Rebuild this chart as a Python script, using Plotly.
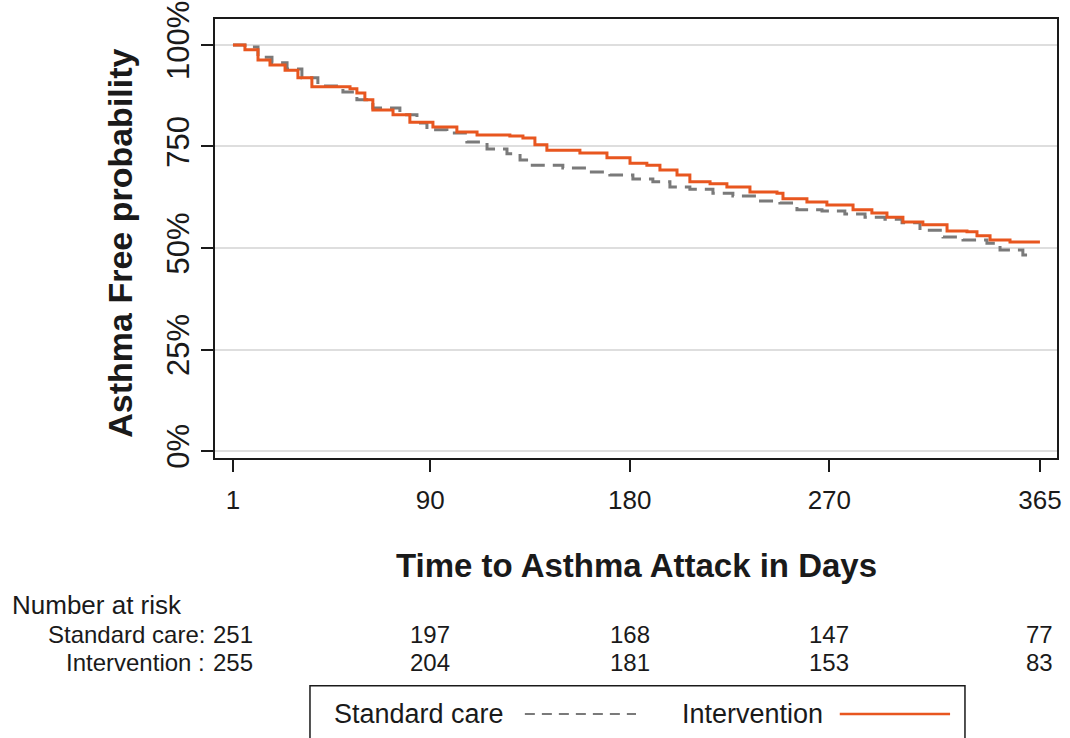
import plotly.graph_objects as go

# Kaplan-Meier step estimates (day, asthma-free probability in %)
std_days = [1, 6.4, 12.3, 18.6, 25.4, 32.1, 39.3, 45.7, 50.6, 56.9, 64.1, 76.3, 84.0,
            88.5, 97.5, 106.5, 115.6, 124.6, 130.5, 135.0, 149.8, 160.7, 171.0, 181.4,
            190.4, 198.1, 207.1, 217.5, 226.5, 237.4, 247.7, 255.4, 266.7, 277.0, 286.1,
            295.1, 302.8, 310.9, 321.3, 330.3, 341.1, 347.0, 357.3, 361.4]
std_surv = [100.0, 99.5, 97.0, 95.6, 94.1, 91.9, 89.9, 89.9, 88.4, 86.5, 84.5, 82.8, 80.8,
            79.1, 78.3, 76.1, 74.4, 73.2, 71.7, 70.4, 69.7, 68.7, 68.0, 67.0,
            66.3, 65.0, 64.5, 63.5, 62.8, 61.6, 61.1, 59.4, 59.1, 58.4, 57.6,
            57.1, 56.2, 54.4, 52.7, 52.0, 51.2, 49.5, 48.3, 48.3]

int_days = [1, 6.4, 12.3, 17.7, 24.5, 30.3, 36.6, 53.8, 56.9, 60.5, 64.1, 73.2, 80.8,
            91.2, 102.0, 111.1, 125.9, 131.8, 137.2, 142.6, 157.5, 169.7, 180.1, 187.7,
            193.6, 201.3, 207.1, 216.2, 223.8, 234.2, 246.4, 249.1, 259.9, 268.9, 280.7,
            289.2, 296.0, 303.2, 312.2, 323.1, 332.1, 336.6, 342.5, 351.5, 365]
int_surv = [100.0, 98.8, 96.3, 95.1, 93.8, 91.9, 89.7, 89.2, 88.2, 86.5, 84.0, 82.8, 81.0,
            79.8, 78.6, 77.8, 77.6, 77.1, 75.4, 74.1, 73.4, 72.2, 70.9, 70.4,
            69.2, 68.0, 66.3, 65.8, 65.0, 63.8, 63.5, 62.1, 61.3, 60.6, 59.4,
            58.6, 57.6, 56.4, 55.7, 54.2, 54.0, 53.0, 52.0, 51.5, 51.5]

x_ticks = [1, 90, 180, 270, 365]
y_ticks = [0, 25, 50, 75, 100]
y_tick_text = ["0%", "25%", "50%", "750", "100%"]

risk_std = [251, 197, 168, 147, 77]
risk_int = [255, 204, 181, 153, 83]

GRAY = "#7a7a7a"
ORANGE = "#e8561f"
FONT = "Arial, Liberation Sans, sans-serif"
DARK = "#1a1a1a"


def note(text, x, y, size, xanchor="center", xref="paper", **kw):
    return dict(text=text, xref=xref, yref="paper", x=x, y=y, xanchor=xanchor,
                yanchor="middle", showarrow=False,
                font=dict(size=size, color=DARK, family=FONT), **kw)


fig = go.Figure()
fig.add_trace(go.Scatter(x=std_days, y=std_surv, mode="lines", line_shape="hv",
                         name="Standard care",
                         line=dict(color=GRAY, width=3, dash="14px,8px")))
fig.add_trace(go.Scatter(x=int_days, y=int_surv, mode="lines", line_shape="hv",
                         name="Intervention",
                         line=dict(color=ORANGE, width=3)))

annotations = [
    note("<b>Asthma Free probability</b>", -0.113, 0.49, 34, textangle=-90),
    note("<b>Time to Asthma Attack in Days</b>", 0.501, -0.246, 33),
    note("Number at risk", -0.2435, -0.335, 26, xanchor="left"),
    note("Standard care:", -0.0095, -0.403, 24, xanchor="right"),
    note("Intervention :", -0.0095, -0.465, 24, xanchor="right"),
]
for day, a, b in zip(x_ticks, risk_std, risk_int):
    annotations.append(note(str(a), day, -0.403, 24, xref="x"))
    annotations.append(note(str(b), day, -0.465, 24, xref="x"))

# legend box below the risk table: label first, key line after
annotations += [
    note("Standard care", 0.139, -0.583, 27, xanchor="left"),
    note("Intervention", 0.552, -0.583, 27, xanchor="left"),
]
shapes = [
    dict(type="rect", xref="paper", yref="paper", x0=0.1128, x1=0.8907,
         y0=-0.66, y1=-0.519, line=dict(color=DARK, width=1.5)),
    dict(type="line", xref="paper", yref="paper", x0=0.368, x1=0.5, y0=-0.583, y1=-0.583,
         line=dict(color=GRAY, width=2, dash="10px,7px")),
    dict(type="line", xref="paper", yref="paper", x0=0.742, x1=0.873, y0=-0.583, y1=-0.583,
         line=dict(color=ORANGE, width=2.5)),
]

fig.update_layout(
    width=1070, height=738,
    margin=dict(l=215, r=13, t=19, b=280, autoexpand=False),
    paper_bgcolor="white", plot_bgcolor="white",
    showlegend=False,
    font=dict(family=FONT, color=DARK),
    annotations=annotations, shapes=shapes,
    xaxis=dict(range=[-7.1, 372.7], tickvals=x_ticks, ticks="outside", ticklen=12,
               tickwidth=1.5, tickcolor=DARK, showgrid=False, zeroline=False,
               showline=True, linecolor=DARK, linewidth=2, mirror=True, automargin=False,
               tickfont=dict(size=26, color=DARK, family=FONT), ticklabelstandoff=6),
    yaxis=dict(range=[-1.72, 106.4], tickvals=y_ticks, ticktext=y_tick_text,
               ticks="outside", ticklen=12, tickwidth=1.5, tickcolor=DARK,
               tickangle=-90, showgrid=True, gridcolor="#dedede", gridwidth=1.5,
               zeroline=False, showline=True, linecolor=DARK, linewidth=2, mirror=True,
               automargin=False, tickfont=dict(size=31, color=DARK, family=FONT)),
)

fig.write_html("out.html")
